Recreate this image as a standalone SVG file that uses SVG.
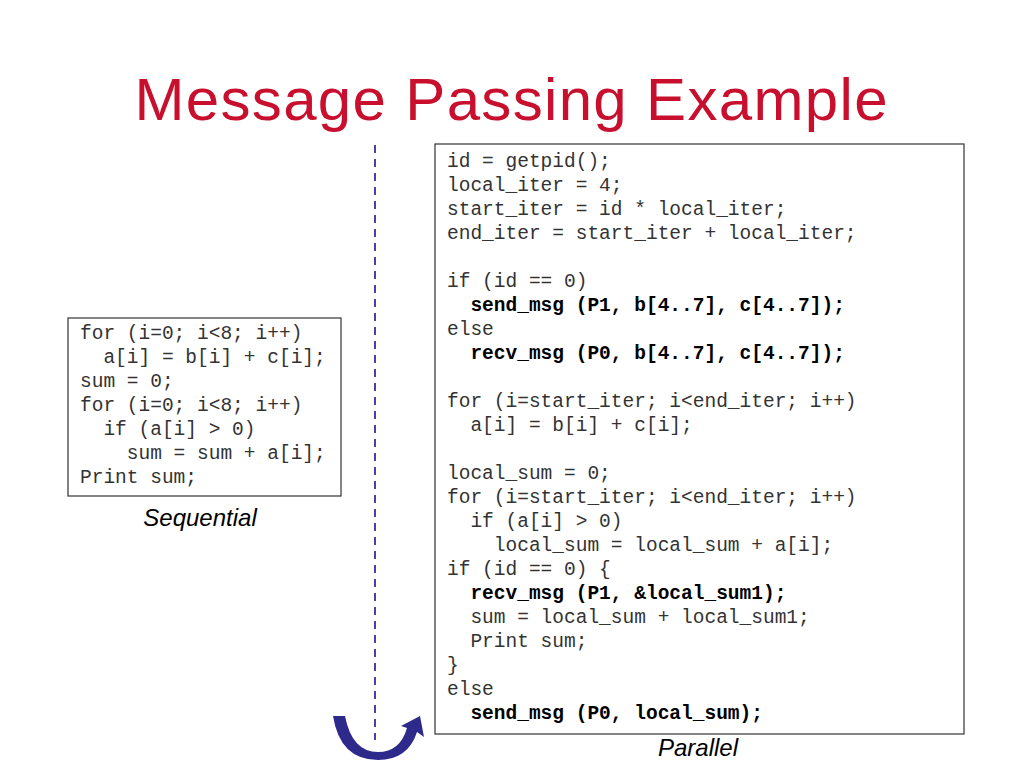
<svg xmlns="http://www.w3.org/2000/svg" width="1024" height="768" viewBox="0 0 1024 768">
<style>
.c{font-family:"Liberation Mono",monospace;font-size:19.5px;fill:#333;white-space:pre}
.b{font-weight:bold;fill:#000}
.l{font-family:"Liberation Sans",Arial,sans-serif;font-style:italic;font-size:24px;fill:#000}
.box{fill:#fff;stroke:#333;stroke-width:1.2}
</style>
<rect width="1024" height="768" fill="#fff"/>
<text x="511" y="120" text-anchor="middle" font-family="Liberation Sans,Arial,sans-serif" font-size="60" fill="#C8102E" textLength="753">Message Passing Example</text>
<g id="connectors">
<line x1="375" y1="145" x2="375" y2="740" stroke="#4B3FA8" stroke-width="2" stroke-dasharray="8,6"/>
<path d="M333,716 L345,716 Q352,752 378,752 Q400,752 407,728 L401,726 L420,716 L424,737 L417,732 Q408,760 378,760 Q340,760 333,716 Z" fill="#2E2A8C"/>
</g>
<g id="sequential">
<rect class="box" x="68" y="318" width="273" height="178"/>
<text class="c" x="80" y="339">for (i=0; i&lt;8; i++)</text>
<text class="c" x="80" y="363">  a[i] = b[i] + c[i];</text>
<text class="c" x="80" y="387">sum = 0;</text>
<text class="c" x="80" y="411">for (i=0; i&lt;8; i++)</text>
<text class="c" x="80" y="435">  if (a[i] &gt; 0)</text>
<text class="c" x="80" y="459">    sum = sum + a[i];</text>
<text class="c" x="80" y="483">Print sum;</text>
<text class="l" x="200" y="526" text-anchor="middle">Sequential</text>
</g>
<g id="parallel">
<rect class="box" x="435" y="144" width="529" height="590"/>
<text class="c" x="447" y="167">id = getpid();</text>
<text class="c" x="447" y="191">local_iter = 4;</text>
<text class="c" x="447" y="215">start_iter = id * local_iter;</text>
<text class="c" x="447" y="239">end_iter = start_iter + local_iter;</text>
<text class="c" x="447" y="287">if (id == 0)</text>
<text class="c b" x="447" y="311">  send_msg (P1, b[4..7], c[4..7]);</text>
<text class="c" x="447" y="335">else</text>
<text class="c b" x="447" y="359">  recv_msg (P0, b[4..7], c[4..7]);</text>
<text class="c" x="447" y="407">for (i=start_iter; i&lt;end_iter; i++)</text>
<text class="c" x="447" y="431">  a[i] = b[i] + c[i];</text>
<text class="c" x="447" y="479">local_sum = 0;</text>
<text class="c" x="447" y="503">for (i=start_iter; i&lt;end_iter; i++)</text>
<text class="c" x="447" y="527">  if (a[i] &gt; 0)</text>
<text class="c" x="447" y="551">    local_sum = local_sum + a[i];</text>
<text class="c" x="447" y="575">if (id == 0) {</text>
<text class="c b" x="447" y="599">  recv_msg (P1, &amp;local_sum1);</text>
<text class="c" x="447" y="623">  sum = local_sum + local_sum1;</text>
<text class="c" x="447" y="647">  Print sum;</text>
<text class="c" x="447" y="671">}</text>
<text class="c" x="447" y="695">else</text>
<text class="c b" x="447" y="719">  send_msg (P0, local_sum);</text>
<text class="l" x="698" y="756" text-anchor="middle">Parallel</text>
</g>
</svg>
